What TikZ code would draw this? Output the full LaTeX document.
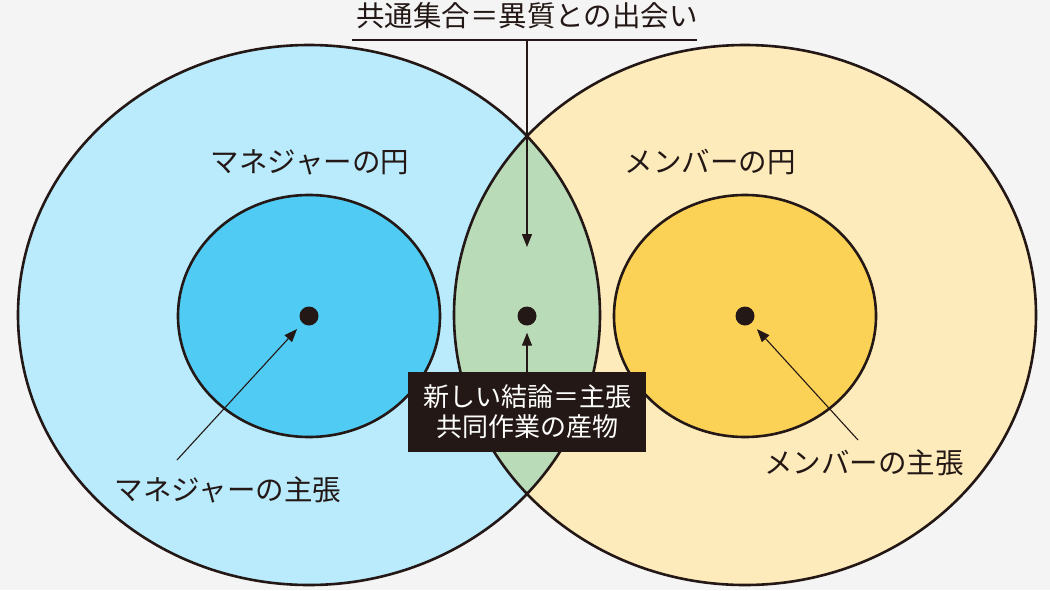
\documentclass[tikz,border=0pt]{standalone}
\usepackage{fontspec}
\setmainfont{Noto Sans CJK JP}
\usetikzlibrary{arrows.meta}
\definecolor{bgcol}{HTML}{F4F4F4}
\definecolor{inkcol}{HTML}{231815}
\definecolor{mgrouter}{HTML}{B9EBFD}
\definecolor{mgrinner}{HTML}{50CBF3}
\definecolor{memouter}{HTML}{FEEBBB}
\definecolor{meminner}{HTML}{FCD256}
\definecolor{lenscol}{HTML}{B9DBB8}

\begin{document}
\begin{tikzpicture}[
    x=1pt, y=-1pt,
    normal line/.style={-{Triangle[length=13pt,width=10pt]}, line width=1.1pt, draw=inkcol},
    ring/.style={draw=inkcol, line width=2.6pt},
    dot/.style={shape=circle, fill=inkcol, minimum size=19pt, inner sep=0pt},
    txt/.style={inner sep=0pt, text=inkcol, font=\fontsize{28.5pt}{30pt}\selectfont},
]
\fill[bgcol] (0,0) rectangle (1050,590);
\useasboundingbox (0,0) rectangle (1050,590);
% outer circles and common part
\fill[mgrouter] (309,315) ellipse [x radius=291pt, y radius=270pt];
\fill[memouter] (745,315) ellipse [x radius=291pt, y radius=270pt];
\begin{scope}
    \clip (309,315) ellipse [x radius=291pt, y radius=270pt];
    \fill[lenscol] (745,315) ellipse [x radius=291pt, y radius=270pt];
\end{scope}
\draw[ring] (309,315) ellipse [x radius=291pt, y radius=270pt];
\draw[ring] (745,315) ellipse [x radius=291pt, y radius=270pt];
\filldraw[ring, fill=mgrinner] (309,316) ellipse [x radius=131pt, y radius=121pt];
\filldraw[ring, fill=meminner] (745,316) ellipse [x radius=131pt, y radius=121pt];

\node[dot] (dot-1) at (309,316) {};
\node[dot] (dot-2) at (527,316) {};
\node[dot] (dot-3) at (745,316) {};

\node[txt] (title) at (527,16) {共通集合＝異質との出会い};
\draw[line width=1.3pt, inkcol] (352,40) -- (697,40);
\coordinate (top-1) at (527,40);
\coordinate (top-2) at (527,247);

\node[txt] (circ-1) at (310,162) {マネジャーの円};
\node[txt] (circ-2) at (710,162) {メンバーの円};
\node[txt] (claim-1) at (228,490) {マネジャーの主張};
\node[txt] (claim-3) at (864,463) {メンバーの主張};
\coordinate (tail-1) at (177,460);
\coordinate (tail-3) at (858,440);

\node[fill=inkcol, text=white, minimum width=238pt, minimum height=80pt, inner sep=0pt,
    align=center, font=\fontsize{26pt}{30pt}\selectfont] (box) at (527,412)
    {新しい結論＝主張\\共同作業の産物};

\draw[normal line] (top-1) -- (top-2);
\draw[normal line, shorten >=7pt] (box.north) -- (dot-2);
\draw[normal line, shorten >=8pt] (tail-1) -- (dot-1);
\draw[normal line, shorten >=8pt] (tail-3) -- (dot-3);
\end{tikzpicture}
\end{document}
